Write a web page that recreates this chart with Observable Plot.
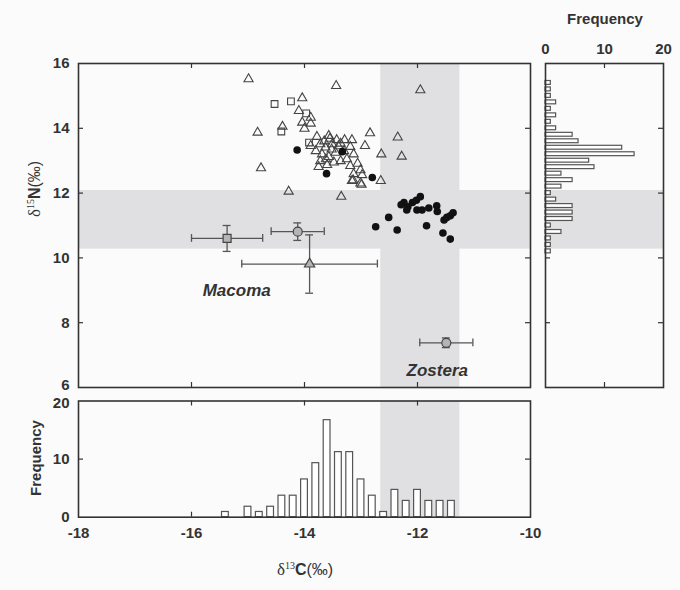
<!DOCTYPE html>
<html><head><meta charset="utf-8">
<script src="https://cdn.jsdelivr.net/npm/d3@7"></script>
<script src="https://cdn.jsdelivr.net/npm/@observablehq/plot@0.6"></script>
<style>
body{margin:0;background:#fbfbfb;font-family:"Liberation Sans",Arial,sans-serif;}
#wrap{position:relative;width:680px;height:590px;overflow:hidden;}
.p{position:absolute;}
.lab{position:absolute;color:#333;font-size:15px;white-space:nowrap;transform:translate(-50%,-50%);line-height:1;}
.rot{transform:translate(-50%,-50%) rotate(-90deg);}
.ax{font-size:16px;}
.ax sup{font-size:10px;font-family:"Liberation Serif",serif;vertical-align:0;position:relative;top:-6px;}
.d{font-family:"Liberation Serif",serif;font-size:17px;}
</style></head><body><div id="wrap">
<div id="main" class="p" style="left:0;top:0"></div>
<div id="bottom" class="p" style="left:0;top:390px"></div>
<div id="right" class="p" style="left:535px;top:0"></div>
<div class="lab" style="left:605px;top:18px;font-weight:bold">Frequency</div>
<div class="lab rot" style="left:35px;top:458px;font-weight:bold">Frequency</div>
<div class="lab rot ax" style="left:34px;top:189px"><span class="d">δ</span><sup>15</sup><b>N</b>(‰)</div>
<div class="lab ax" style="left:305px;top:569px"><span class="d">δ</span><sup>13</sup><b>C</b>(‰)</div>
</div>
<script>
// ---- data ----
const xDomain = [-18, -10];
const yDomain = [6, 16];
const xTicks = [-18, -16, -14, -12, -10];
const yTicks = [6, 8, 10, 12, 14, 16];
const freqTicks = [0, 10, 20];
const zosteraBandC = [-12.65, -11.25];   // δ13C range (vertical grey band)
const macomaBandN = [10.27, 12.08];      // δ15N range (horizontal grey band)

const triangles = [
  [-14.99,15.52],[-13.44,15.31],[-11.95,15.18],[-14.04,14.93],[-14.10,14.54],[-13.89,14.33],
  [-14.04,14.18],[-13.89,14.15],[-14.00,13.99],[-14.39,14.05],[-14.83,13.87],[-14.77,12.77],
  [-14.28,12.05],[-13.35,11.89],[-12.84,13.85],[-12.35,13.72],[-12.28,13.13],[-12.64,13.20],
  [-12.93,13.46],[-12.65,12.38],[-12.99,12.26],[-13.14,12.40],
  [-13.78,13.74],[-13.57,13.77],[-13.43,13.64],[-13.29,13.64],[-13.16,13.64],[-13.89,13.46],
  [-13.72,13.51],[-13.63,13.41],[-13.51,13.51],[-13.36,13.53],[-13.19,13.43],[-13.69,13.20],
  [-13.57,13.12],[-13.45,13.25],[-13.13,13.20],[-13.72,12.99],[-13.36,12.99],[-13.60,12.87],
  [-13.19,12.84],[-13.06,12.91],[-13.01,12.71],[-13.75,12.81],[-13.13,12.59],[-12.98,12.56],
  [-13.16,12.38],[-13.01,12.30],[-13.65,13.60],[-13.52,13.35],[-13.40,13.45],[-13.30,13.30],
  [-13.62,13.05],[-13.25,13.05],[-13.48,12.95],[-13.55,13.68],[-13.80,13.30]
];
const squares = [[-14.53,14.75],[-14.24,14.83],[-13.97,14.46],[-14.41,13.90],[-13.92,13.56]];
const circles = [
  [-14.13,13.33],[-13.33,13.28],[-13.61,12.60],[-12.80,12.48],
  [-12.51,11.25],[-12.74,10.96],[-12.36,10.86],[-11.84,10.99],[-11.55,10.77],[-11.42,10.58],
  [-12.24,11.71],[-12.17,11.58],[-12.09,11.71],[-12.02,11.78],[-11.95,11.89],[-12.19,11.48],
  [-12.01,11.48],[-11.92,11.48],[-11.80,11.54],[-11.66,11.61],[-11.65,11.43],[-11.53,11.17],
  [-11.48,11.25],[-11.42,11.30],[-11.37,11.39],[-12.29,11.64]
];
// source means ± SD
const meanSymbol = ["square", "circle", "triangle", "circle"];
const meanC = [-15.37, -14.12, -13.91, -11.49];
const meanN = [10.60, 10.81, 9.81, 7.38];
const sdC = [0.63, 0.47, 1.20, 0.47];
const sdN = [0.40, 0.27, 0.90, 0.15];
const labelText = ["Macoma", "Zostera"];
const labelC = [-15.20, -11.65];
const labelN = [8.98, 6.51];

// histograms
const cBins = [-15.4,-15.0,-14.8,-14.6,-14.4,-14.2,-14.0,-13.8,-13.6,-13.4,-13.2,-13.0,-12.8,-12.6,-12.4,-12.2,-12.0,-11.8,-11.6,-11.4];
const cFreq = [0.9,1.8,0.9,1.8,3.7,3.7,6.5,9.3,16.7,11.2,11.2,6.5,3.7,0.9,4.7,2.8,4.7,2.8,2.8,2.8];
const nBins = [15.4,15.2,15.0,14.8,14.6,14.4,14.2,14.0,13.8,13.6,13.4,13.2,13.0,12.8,12.6,12.4,12.2,12.0,11.8,11.6,11.4,11.2,11.0,10.8,10.6,10.4,10.2];
const nFreq = [0.9,0.9,0.9,1.8,0.9,1.8,0.9,1.8,4.6,5.6,13.0,15.1,7.4,8.3,2.7,4.6,2.7,0.9,1.8,4.6,4.6,4.6,0.9,2.7,0.9,0.9,0.9];

// ---- styles ----
const FONT = "'Liberation Sans', Arial, sans-serif";
const INK = "#333";
const BAND = "#e0e0e2";
const BAR = "#555";
const TICK = 5;
const styleBase = {background: "transparent", fontFamily: FONT, fontSize: "15px", fontWeight: "bold", color: INK, overflow: "visible"};
const fmt = d => String(d);
const axOpts = {tickSize: 0, tickPadding: 9, tickFormat: fmt, label: null};
const means = meanC.map((c, i) => ({s: meanSymbol[i], c, n: meanN[i], sc: sdC[i], sn: sdN[i]}));
const labels = labelText.map((t, i) => ({t, c: labelC[i], n: labelN[i]}));
const cHist = cBins.map((c, i) => ({c, f: cFreq[i]}));
const nHist = nBins.map((n, i) => ({n, f: nFreq[i]}));
const inner = v => v.slice(1, -1);

function inwardTicks(W, H, xt, yt) {
  const o = {stroke: INK, strokeWidth: 1.2};
  const m = [];
  if (xt) m.push(
    Plot.ruleX(xt, {x: d => d, ...o, insetTop: H - TICK}),
    Plot.ruleX(xt, {x: d => d, ...o, insetBottom: H - TICK}));
  if (yt) m.push(
    Plot.ruleY(yt, {y: d => d, ...o, insetRight: W - TICK}),
    Plot.ruleY(yt, {y: d => d, ...o, insetLeft: W - TICK}));
  return m;
}

// ---- main scatter ----
{
  const W = 540, H = 395, mL = 78, mR = 10, mT = 63, mB = 8;
  const iw = W - mL - mR, ih = H - mT - mB;
  const eb = {stroke: "#555", strokeWidth: 1.3};
  const chart = Plot.plot({
    width: W, height: H, marginLeft: mL, marginRight: mR, marginTop: mT, marginBottom: mB,
    style: styleBase,
    x: {domain: xDomain, axis: null},
    y: {domain: yDomain},
    marks: [
      Plot.rect([zosteraBandC], {x1: d => d[0], x2: d => d[1], y1: yDomain[0], y2: yDomain[1], fill: BAND}),
      Plot.rect([macomaBandN], {y1: d => d[0], y2: d => d[1], x1: xDomain[0], x2: xDomain[1], fill: BAND}),
      Plot.axisY(yTicks.slice(1), axOpts),
      Plot.axisY(yTicks.slice(0, 1), {...axOpts, dy: -2}),
      ...inwardTicks(iw, ih, inner(xTicks), inner(yTicks)),
      Plot.dot(triangles, {x: d => d[0], y: d => d[1], symbol: "triangle", r: 3.4, stroke: "#444", fill: "none", strokeWidth: 1.1}),
      Plot.dot(squares, {x: d => d[0], y: d => d[1], symbol: "square", r: 3.8, stroke: "#444", fill: "none", strokeWidth: 1.1}),
      Plot.dot(circles, {x: d => d[0], y: d => d[1], symbol: "circle", r: 3.8, fill: "#111"}),
      // error bars
      Plot.ruleY(means, {y: "n", x1: d => d.c - d.sc, x2: d => d.c + d.sc, ...eb}),
      Plot.ruleX(means, {x: "c", y1: d => d.n - d.sn, y2: d => d.n + d.sn, ...eb}),
      Plot.ruleX(means, {x: d => d.c - d.sc, y1: d => d.n - 0.12, y2: d => d.n + 0.12, ...eb}),
      Plot.ruleX(means, {x: d => d.c + d.sc, y1: d => d.n - 0.12, y2: d => d.n + 0.12, ...eb}),
      Plot.ruleY(means, {y: d => d.n - d.sn, x1: d => d.c - 0.07, x2: d => d.c + 0.07, ...eb}),
      Plot.ruleY(means, {y: d => d.n + d.sn, x1: d => d.c - 0.07, x2: d => d.c + 0.07, ...eb}),
      ...["square", "circle", "triangle"].map(s =>
        Plot.dot(means.filter(d => d.s === s), {x: "c", y: "n", symbol: s, r: s === "triangle" ? 3.8 : 4.5, fill: "#b4b4b4", stroke: "#444", strokeWidth: 1.2})),
      Plot.text(labels, {x: "c", y: "n", text: "t", fontStyle: "italic", fontWeight: "bold", fontSize: 17, fill: INK}),
      Plot.frame({stroke: INK, strokeWidth: 1.6})
    ]
  });
  document.getElementById("main").appendChild(chart);
}

// ---- bottom histogram (δ13C) ----
{
  const W = 540, H = 200, mL = 78, mR = 10, mT = 10.5, mB = 73.3;
  const iw = W - mL - mR, ih = H - mT - mB;
  const chart = Plot.plot({
    width: W, height: H, marginLeft: mL, marginRight: mR, marginTop: mT, marginBottom: mB,
    style: styleBase,
    x: {domain: xDomain, ticks: xTicks, tickSize: 0, tickPadding: 10, tickFormat: fmt, label: null},
    y: {domain: [0, 20]},
    marks: [
      Plot.rect([zosteraBandC], {x1: d => d[0], x2: d => d[1], y1: 0, y2: 20, fill: BAND}),
      Plot.axisY(freqTicks.slice(0, 2), axOpts),
      Plot.axisY(freqTicks.slice(2), {...axOpts, dy: 2}),
      ...inwardTicks(iw, ih, inner(xTicks), inner(freqTicks)),
      Plot.rect(cHist, {x1: d => d.c - 0.06, x2: d => d.c + 0.06, y1: 0, y2: "f", fill: "white", stroke: BAR, strokeWidth: 1.2}),
      Plot.frame({stroke: INK, strokeWidth: 1.6})
    ]
  });
  document.getElementById("bottom").appendChild(chart);
}

// ---- right histogram (δ15N) ----
{
  const W = 145, H = 395, mL = 10, mR = 17, mT = 63, mB = 8;
  const iw = W - mL - mR, ih = H - mT - mB;
  const chart = Plot.plot({
    width: W, height: H, marginLeft: mL, marginRight: mR, marginTop: mT, marginBottom: mB,
    style: styleBase,
    x: {domain: [0, 20], axis: "top", ticks: freqTicks, tickSize: 0, tickPadding: 10, tickFormat: fmt, label: null},
    y: {domain: yDomain, axis: null},
    marks: [
      Plot.rect([macomaBandN], {y1: d => d[0], y2: d => d[1], x1: 0, x2: 20, fill: BAND}),
      ...inwardTicks(iw, ih, inner(freqTicks), inner(yTicks)),
      Plot.rect(nHist, {y1: d => d.n - 0.06, y2: d => d.n + 0.06, x1: 0, x2: "f", fill: "white", stroke: BAR, strokeWidth: 1.2}),
      Plot.frame({stroke: INK, strokeWidth: 1.6})
    ]
  });
  document.getElementById("right").appendChild(chart);
}
</script>
</body></html>
